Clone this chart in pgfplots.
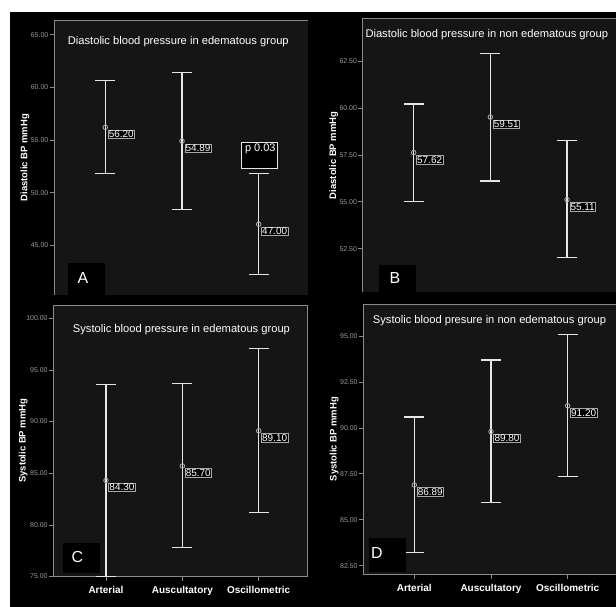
\documentclass[border=0pt]{standalone}
\usepackage{pgfplots}
\pgfplotsset{compat=1.18}
\usepackage{fontspec}
\setmainfont{Liberation Sans}
\definecolor{panelbg}{HTML}{151515}
\definecolor{framegray}{HTML}{8A8A8A}
\definecolor{tickgray}{HTML}{9A9A9A}
\definecolor{barwhite}{HTML}{E6E6E6}
\definecolor{markgray}{HTML}{B0B0B0}
\definecolor{boxgray}{HTML}{A8A8A8}
\pgfplotsset{
  panel/.style={
    scale only axis, anchor=south west, clip=false,
    axis background/.style={fill=panelbg},
    axis line style={draw=framegray, line width=0.8bp},
    tick pos=left, tick align=outside, major tick length=4.5bp,
    tick style={draw=framegray, line width=0.6bp},
    xtick={0,1,2},
    yticklabel style={font=\fontsize{7}{8}\selectfont, text=tickgray, inner sep=1bp},
    xticklabel style={font=\bfseries\fontsize{10}{12}\selectfont, text=white, yshift=-2bp},
    ylabel style={font=\bfseries\fontsize{9.5}{11}\selectfont, text=white, anchor=center},
    /pgf/number format/fixed, /pgf/number format/fixed zerofill,
    /pgf/number format/precision=2, /pgf/number format/assume math mode=true,
  },
  bars/.style={only marks, mark=o, mark size=2.3bp,
    mark options={draw=markgray, line width=0.8bp},
    error bars/y dir=both, error bars/y explicit,
    error bars/error bar style={draw=barwhite, line width=1.2bp},
    error bars/error mark options={rotate=90, draw=barwhite, line width=1.2bp, mark size=10bp},
    nodes near coords,
    every node near coord/.append style={anchor=north west, draw=boxgray, fill=black,
      text=white, font=\fontsize{10}{11}\selectfont, inner sep=0.7bp, line width=0.6bp,
      xshift=2.5bp, yshift=-2.5bp},
  },
}
\pgfplotstableread{
x y ep em
0 56.20 4.43 4.40
1 54.89 6.54 6.49
2 47.00 4.80 4.80
}\tabA
\pgfplotstableread{
x y ep em
0 57.62 2.59 2.60
1 59.51 3.40 3.40
2 55.11 3.14 3.09
}\tabB
\pgfplotstableread{
x y ep em
0 84.30 9.25 9.27
1 85.70 7.98 7.90
2 89.10 7.97 7.93
}\tabC
\pgfplotstableread{
x y ep em
0 86.89 3.70 3.67
1 89.80 3.89 3.87
2 91.20 3.87 3.84
}\tabD
\begin{document}
\begin{tikzpicture}
\path[use as bounding box] (0,0) rectangle (616bp,607bp);
\fill[white] (0,0) rectangle (616bp,607bp);
\fill[black] (10bp,0) rectangle (616bp,595bp);
\begin{scope}
\clip (0,0) rectangle (616bp,607bp);
% Panel A
\begin{axis}[panel, at={(54bp,311.5bp)}, width=253.5bp, height=275.5bp,
  xmin=-0.669, xmax=2.636, ymin=40.23, ymax=66.40,
  ytick={45,50,55,60,65}, xtick=\empty, axis line style={draw=none},
  ylabel={Diastolic BP mmHg}, ylabel style={at={(rel axis cs:-0.1144,0.5)}}]
\draw[framegray, line width=0.8bp] (rel axis cs:0,0) -- (rel axis cs:0,1) -- (rel axis cs:1,1);
\addplot[bars] table[x=x, y=y, y error plus=ep, y error minus=em] {\tabA};
\draw[barwhite, line width=1bp, fill=black] (axis cs:1.769,52.27) rectangle (axis cs:2.2425,54.74);
\node[text=white, font=\fontsize{11}{13}\selectfont] at (axis cs:2.02,54.12) {p 0.03};
\end{axis}
% Panel B
\begin{axis}[panel, at={(362.7bp,314.5bp)}, width=255.3bp, height=274.2bp,
  xmin=-0.665, xmax=2.665, ymin=50.17, ymax=64.77,
  ytick={52.5,55,57.5,60,62.5}, xtick=\empty, axis line style={draw=none},
  ylabel={Diastolic BP mmHg}, ylabel style={at={(rel axis cs:-0.1136,0.5)}}]
\draw[framegray, line width=0.8bp] (rel axis cs:0,0) -- (rel axis cs:0,1) -- (rel axis cs:1,1);
\addplot[bars] table[x=x, y=y, y error plus=ep, y error minus=em] {\tabB};
\end{axis}
% Panel C
\begin{axis}[panel, at={(53.3bp,30.5bp)}, width=254.2bp, height=271.5bp,
  xmin=-0.69, xmax=2.639, ymin=75, ymax=101.28,
  ytick={75,80,85,90,95,100},
  xticklabels={Arterial,Auscultatory,Oscillometric},
  ylabel={Systolic BP mmHg}, ylabel style={at={(rel axis cs:-0.118,0.5)}}]
\addplot[bars] table[x=x, y=y, y error plus=ep, y error minus=em] {\tabC};
\end{axis}
% Panel D
\begin{axis}[panel, at={(363.3bp,32.7bp)}, width=254.7bp, height=270.3bp,
  xmin=-0.665, xmax=2.656, ymin=82.03, ymax=96.74,
  ytick={82.5,85,87.5,90,92.5,95},
  xticklabels={Arterial,Auscultatory,Oscillometric},
  ylabel={Systolic BP mmHg}, ylabel style={at={(rel axis cs:-0.1139,0.5)}}]
\addplot[bars] table[x=x, y=y, y error plus=ep, y error minus=em] {\tabD};
\end{axis}
\end{scope}
% titles
\begin{scope}[every node/.style={anchor=west, text=white, font=\fontsize{11.2}{13}\selectfont, inner sep=0pt}]
\node at (67.7bp,565.3bp) {Diastolic blood pressure in edematous group};
\node at (365.3bp,572bp) {Diastolic blood pressure in non edematous group};
\node at (72.7bp,277.7bp) {Systolic blood pressure in edematous group};
\node at (372.7bp,286.3bp) {Systolic blood presure in non edematous group};
\end{scope}
% panel letters
\fill[black] (68bp,312bp) rectangle (105bp,344.3bp);
\fill[black] (378.7bp,315bp) rectangle (416bp,342bp);
\fill[black] (63bp,34bp) rectangle (100bp,64bp);
\fill[black] (369bp,35.3bp) rectangle (406bp,69bp);
\begin{scope}[every node/.style={text=white, font=\fontsize{16}{18}\selectfont, inner sep=0pt}]
\node at (83bp,329bp) {A};
\node at (395bp,329.3bp) {B};
\node at (77.3bp,50.3bp) {C};
\node at (377bp,54bp) {D};
\end{scope}
\end{tikzpicture}
\end{document}
